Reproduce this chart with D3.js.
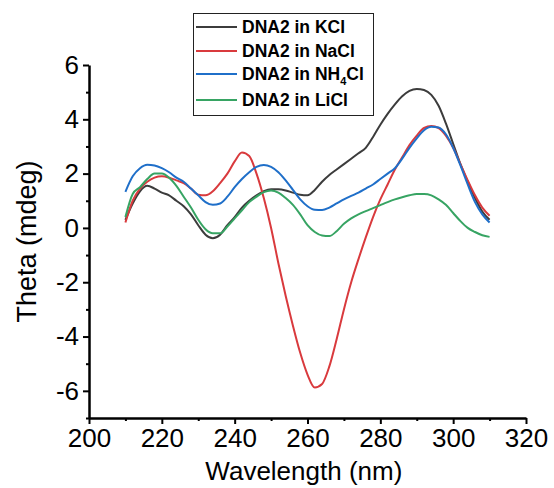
<!DOCTYPE html>
<html>
<head>
<meta charset="utf-8">
<script src="https://cdn.jsdelivr.net/npm/d3@7"></script>
<style>
  html, body { margin: 0; padding: 0; background: #fff; }
  svg { display: block; font-family: Arial, "Liberation Sans", sans-serif; }
</style>
</head>
<body>
<div id="chart"></div>
<script>
// CD spectra of DNA2 in different salts
const wavelength = [210,212,214,216,218,220,222,224,226,228,230,232,234,236,238,240,242,244,246,248,250,
  252,254,256,258,260,262,264,266,268,270,272,274,276,278,280,282,284,286,288,290,292,294,296,298,300,302,304,306,308,310];

const kcl = [0.3,0.9,1.35,1.55,1.45,1.3,1.2,1.0,0.8,0.5,0.1,-0.25,-0.38,-0.25,0.1,0.4,0.75,1.0,1.2,1.35,1.42,
  1.42,1.38,1.3,1.22,1.2,1.4,1.7,1.95,2.15,2.35,2.55,2.75,2.95,3.35,3.8,4.2,4.55,4.85,5.05,5.12,5.08,4.9,4.5,3.85,3.1,2.35,1.7,1.1,0.6,0.3];

const nacl = [0.2,1.0,1.45,1.7,1.85,1.9,1.85,1.75,1.65,1.45,1.22,1.2,1.35,1.65,2.0,2.45,2.78,2.65,2.0,1.1,0.0,
  -1.3,-2.5,-3.6,-4.6,-5.4,-5.88,-5.75,-5.1,-4.1,-3.0,-2.0,-1.15,-0.35,0.4,1.05,1.6,2.15,2.6,3.05,3.4,3.68,3.75,3.68,3.4,2.95,2.35,1.75,1.2,0.75,0.45];

const nh4cl = [1.33,1.9,2.2,2.33,2.3,2.2,2.05,1.85,1.7,1.45,1.2,0.95,0.85,0.9,1.15,1.5,1.8,2.05,2.25,2.32,2.25,
  2.05,1.75,1.4,1.05,0.8,0.67,0.66,0.75,0.9,1.05,1.18,1.3,1.45,1.6,1.8,2.0,2.2,2.55,2.95,3.3,3.6,3.73,3.7,3.45,2.95,2.3,1.6,0.95,0.5,0.2];

const licl = [0.4,1.25,1.5,1.8,2.0,2.0,1.85,1.55,1.15,0.75,0.3,-0.05,-0.2,-0.2,0.05,0.35,0.65,0.95,1.15,1.32,1.38,
  1.3,1.1,0.85,0.5,0.1,-0.15,-0.28,-0.3,-0.12,0.15,0.35,0.5,0.62,0.73,0.84,0.95,1.05,1.13,1.2,1.25,1.25,1.2,1.05,0.85,0.55,0.25,0.0,-0.15,-0.27,-0.33];

const xMajor = [200,220,240,260,280,300,320];
const xMinor = [210,230,250,270,290,310];
const yMajor = [-6,-4,-2,0,2,4,6];
const yMinor = [-7,-5,-3,-1,1,3,5];

const series = [
  {name: 'KCl', values: kcl, color: '#3c3c3c'},
  {name: 'NaCl', values: nacl, color: '#d93a3d'},
  {name: 'NH4Cl', values: nh4cl, color: '#1f6fc9'},
  {name: 'LiCl', values: licl, color: '#37a463'}
];

const W = 554, H = 488;
const svg = d3.select('#chart').append('svg')
  .attr('width', W)
  .attr('height', H);

const x = d3.scaleLinear().domain([200, 320]).range([89, 526]);
const y = d3.scaleLinear().domain([-7, 6]).range([418, 65]);

// lines
const line = d3.line()
  .x((d, i) => x(wavelength[i]))
  .y(d => y(d))
  .curve(d3.curveMonotoneX);

series.forEach(s => {
  svg.append('path')
    .datum(s.values)
    .attr('fill', 'none')
    .attr('stroke', s.color)
    .attr('stroke-width', 2)
    .attr('d', line);
});

// axes (plain hyphen for negatives, like the original)
const fmt = d => String(d);
svg.append('g')
  .attr('transform', `translate(0,${y(-7)})`)
  .call(d3.axisBottom(x).tickValues(xMajor).tickFormat(fmt).tickSize(6).tickSizeOuter(0).tickPadding(5));
svg.append('g')
  .attr('transform', `translate(0,${y(-7)})`)
  .call(d3.axisBottom(x).tickValues(xMinor).tickSize(3).tickFormat(''))
  .select('.domain').remove();

svg.append('g')
  .attr('transform', `translate(${x(200)},0)`)
  .call(d3.axisLeft(y).tickValues(yMajor).tickFormat(fmt).tickSize(6).tickSizeOuter(0).tickPadding(4));
svg.append('g')
  .attr('transform', `translate(${x(200)},0)`)
  .call(d3.axisLeft(y).tickValues(yMinor).tickSize(3).tickFormat(''))
  .select('.domain').remove();

svg.selectAll('.domain').attr('stroke', '#000').attr('stroke-width', 2.5);
svg.selectAll('.tick line').attr('stroke', '#000').attr('stroke-width', 2);
svg.selectAll('.tick text')
  .attr('font-family', 'Arial, "Liberation Sans", sans-serif')
  .attr('font-size', 26)
  .attr('fill', '#000');

// axis titles
svg.append('text')
  .attr('x', x(259))
  .attr('y', 480)
  .attr('text-anchor', 'middle')
  .attr('font-size', 26)
  .attr('fill', '#000')
  .text('Wavelength (nm)');

svg.append('text')
  .attr('transform', `translate(36, ${y(-0.5)}) rotate(-90)`)
  .attr('text-anchor', 'middle')
  .attr('font-size', 27)
  .attr('fill', '#000')
  .text('Theta (mdeg)');

// legend
const legend = svg.append('g');
legend.append('rect')
  .attr('x', 193.5).attr('y', 13.5)
  .attr('width', 180).attr('height', 102)
  .attr('fill', '#fff')
  .attr('stroke', '#222')
  .attr('stroke-width', 1);

const rowY = [27, 51, 74, 100];
series.forEach((s, i) => {
  legend.append('line')
    .attr('x1', 196).attr('x2', 237)
    .attr('y1', rowY[i]).attr('y2', rowY[i])
    .attr('stroke', s.color)
    .attr('stroke-width', 2);
  const t = legend.append('text')
    .attr('x', 242)
    .attr('y', rowY[i] + 6)
    .attr('font-size', 17.5)
    .attr('font-weight', 'bold')
    .attr('fill', '#000');
  if (s.name === 'NH4Cl') {
    t.append('tspan').text('DNA2 in NH');
    t.append('tspan').attr('font-size', 11).attr('dy', 5).text('4');
    t.append('tspan').attr('dy', -5).text('Cl');
  } else {
    t.text('DNA2 in ' + s.name);
  }
});
</script>
</body>
</html>
